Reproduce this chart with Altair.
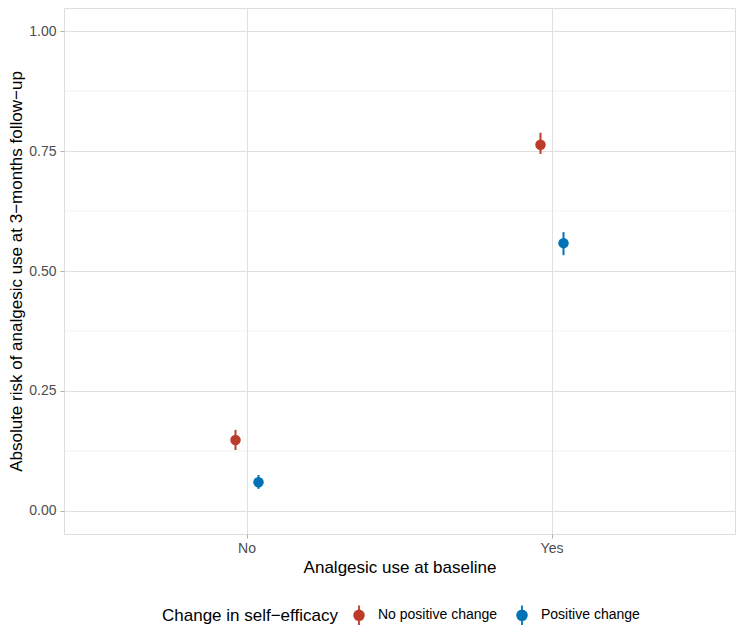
import altair as alt
import pandas as pd

baseline = ["No", "No", "Yes", "Yes"]
group = ["No positive change", "Positive change", "No positive change", "Positive change"]
risk = [0.148, 0.060, 0.763, 0.558]
lower = [0.127, 0.046, 0.744, 0.533]
upper = [0.169, 0.075, 0.788, 0.581]

major_ticks = [0.0, 0.25, 0.5, 0.75, 1.0]
minor_ticks = [0.125, 0.375, 0.625, 0.875]

df = pd.DataFrame({"baseline": baseline, "group": group, "risk": risk,
                   "lower": lower, "upper": upper})
minor_df = pd.DataFrame({"v": minor_ticks})

FONT = "Liberation Sans"
colors = ["#BC3C29", "#0072B5"]
groups = ["No positive change", "Positive change"]

# point with a vertical error line, as in the legend key of the reference
KEY = "M -0.5 0 A 0.5 0.5 0 1 0 0.5 0 A 0.5 0.5 0 1 0 -0.5 0 Z M 0 -1 L 0 1"

xenc = alt.X("baseline:N", title="Analgesic use at baseline",
             scale=alt.Scale(paddingInner=0, paddingOuter=0.1),
             axis=alt.Axis(grid=True, bandPosition=0.5, labelAngle=0,
                           gridColor="#e0e0e0", gridWidth=1,
                           domain=False, tickColor="#b3b3b3", tickSize=4,
                           labelColor="#4d4d4d", labelFontSize=14,
                           labelPadding=3, titleFontSize=17, titleFontWeight="normal",
                           titleColor="black", titlePadding=4))
yscale = alt.Scale(domain=[-0.048, 1.048], nice=False, zero=False)
yenc = alt.Y("risk:Q", title="Absolute risk of analgesic use at 3\u2212months follow\u2212up",
             scale=yscale,
             axis=alt.Axis(values=major_ticks, format=".2f", grid=True,
                           gridColor="#e0e0e0", gridWidth=1,
                           domain=False, tickColor="#b3b3b3", tickSize=4,
                           labelColor="#4d4d4d", labelFontSize=14,
                           labelPadding=4, titleFontSize=17, titleFontWeight="normal",
                           titleColor="black", titlePadding=3))
xoff = alt.XOffset("group:N", scale=alt.Scale(domain=groups, range=[129.5, 175.5],
                                                paddingInner=0, paddingOuter=0))
color = alt.Color("group:N", title="Change in self\u2212efficacy",
                  scale=alt.Scale(domain=groups, range=colors),
                  legend=alt.Legend(orient="none", direction="horizontal", titleOrient="left",
                                    legendX=98, legendY=596, titleFontSize=17,
                                    titleFontWeight="normal", titleColor="black",
                                    labelFontSize=14, labelColor="black",
                                    symbolType=KEY, symbolSize=380,
                                    symbolStrokeWidth=1.8,
                                    columnPadding=13, labelOffset=8, titlePadding=10))

minor = alt.Chart(minor_df).mark_rule(color="#ececec", strokeWidth=0.7).encode(
    y=alt.Y("v:Q", scale=yscale)
)

bars = alt.Chart(df).mark_rule(strokeWidth=2).encode(
    x=xenc, xOffset=xoff, y=alt.Y("lower:Q", scale=yscale), y2="upper:Q",
    color=color
)
points = alt.Chart(df).mark_circle(size=110, opacity=1).encode(
    x=xenc, xOffset=xoff, y=yenc, color=color
)

chart = alt.layer(minor, bars, points).resolve_scale(y="shared").properties(
    width=671, height=526,
    padding={"left": 64, "top": 8, "right": 9, "bottom": 109},
    autosize=alt.AutoSizeParams(type="none"),
).configure_view(stroke="#b3b3b3", strokeWidth=1.2).configure(font=FONT, background="white")

chart.save("out.html", embed_options={"renderer": "svg", "actions": False})
